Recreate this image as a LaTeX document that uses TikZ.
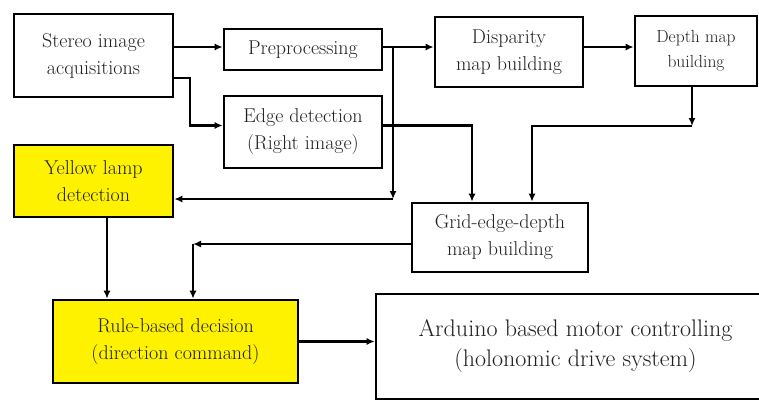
\documentclass[tikz,border=0pt]{standalone}
\usetikzlibrary{arrows.meta}
\begin{document}
\begin{tikzpicture}[x=1pt,y=-1pt,
  box/.style={draw=black, line width=2.6pt, align=center, inner sep=0pt, text=black!88,
    font=\fontsize{20}{27}\selectfont},
  ybox/.style={box, fill=yellow},
  conn/.style={line width=2.2pt, -{Latex[length=8pt,width=7pt]}}]
\useasboundingbox (0,0) rectangle (759,401);
% nodes
\node[box, minimum width=159, minimum height=83] (stereo) at (93.5,55.5) {Stereo image\\acquisitions};
\node[box, minimum width=158, minimum height=41] (prep) at (303,49.5) {Preprocessing};
\node[box, minimum width=158, minimum height=72] (edge) at (303,132) {Edge detection\\(Right image)};
\node[ybox, minimum width=159, minimum height=72] (yellow) at (93.5,181) {Yellow lamp\\detection};
\node[box, minimum width=148, minimum height=70] (disp) at (509,52) {Disparity\\map building};
\node[box, minimum width=122, minimum height=70, font=\fontsize{17.5}{25}\selectfont] (depth) at (696,51) {Depth map\\building};
\node[box, minimum width=176, minimum height=69] (grid) at (500,237.5) {Grid-edge-depth\\map building};
\node[ybox, minimum width=245, minimum height=83] (rule) at (175.5,341.5) {Rule-based decision\\(direction command)};
\node[box, minimum width=399, minimum height=105, font=\fontsize{24}{30}\selectfont] (ard) at (575.5,346.5) {Arduino based motor controlling\\(holonomic drive system)};
% helper coordinates
\coordinate (r1) at (0,47);
\coordinate (r2) at (0,78);
\coordinate (k1) at (190,125.5);
\coordinate (j1) at (393,47);
\coordinate (j2) at (393,199);
\coordinate (k2) at (472,0);
\coordinate (k3) at (692,126);
\coordinate (k4) at (532,0);
\coordinate (k5) at (193,244);
\coordinate (k6) at (107,0);
% connectors
\draw[conn] (stereo.east |- r1) -- (prep.west |- r1);
\draw[conn] (prep.east |- r1) -- (disp.west |- r1);
\draw[conn] (disp.east |- r1) -- (depth.west |- r1);
\draw[conn] (stereo.east |- r2) -| (k1) -- (edge.west |- k1);
\draw[conn] (j1) -- (j2);
\draw[conn] (j2) -- (yellow.east |- j2);
\draw[conn] (edge.east |- k1) -| (grid.north -| k2);
\draw[conn] (depth.south -| k3) -- (k3);
\draw[conn] (k3) -| (grid.north -| k4);
\draw[conn] (grid.west |- k5) -- (k5);
\draw[conn] (k5) -- (rule.north -| k5);
\draw[conn] (yellow.south -| k6) -- (rule.north -| k6);
\draw[conn] (rule.east) -- (ard.west |- rule.east);
\end{tikzpicture}
\end{document}
